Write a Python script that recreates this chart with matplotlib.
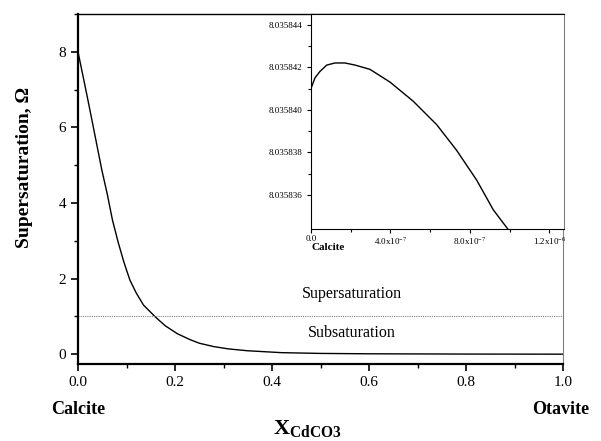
import numpy as np
import matplotlib.pyplot as plt
from matplotlib.ticker import MultipleLocator, FixedLocator

plt.rcParams['font.family'] = ['Liberation Serif', 'DejaVu Serif']
plt.rcParams['mathtext.fontset'] = 'custom'
plt.rcParams['mathtext.rm'] = 'Liberation Serif'
plt.rcParams['mathtext.bf'] = 'Liberation Serif:bold'

# main curve: supersaturation vs X_CdCO3
x_main = [0.0, 0.009, 0.018, 0.028, 0.0385, 0.049, 0.0604, 0.071, 0.083, 0.095,
          0.107, 0.12, 0.135, 0.159, 0.18, 0.205, 0.23, 0.25, 0.28, 0.31,
          0.35, 0.42, 0.5, 0.6, 0.8, 1.0]
omega_main = [8.0, 7.44, 6.88, 6.24, 5.56, 4.88, 4.23, 3.55, 2.95, 2.42,
              1.96, 1.62, 1.3, 0.99, 0.75, 0.54, 0.39, 0.29, 0.2, 0.14,
              0.09, 0.04, 0.02, 0.01, 0.003, 0.0]

# inset: zoom near calcite end
x_inset = [0.0, 0.2e-7, 0.45e-7, 0.79e-7, 1.21e-7, 1.71e-7, 2.22e-7, 2.97e-7,
           3.98e-7, 5.15e-7, 6.33e-7, 7.33e-7, 8.34e-7, 9.18e-7, 9.99e-7]
omega_inset = [8.0358410, 8.0358415, 8.0358418, 8.0358421, 8.0358422,
               8.0358422, 8.0358421, 8.0358419, 8.0358413, 8.0358404,
               8.0358393, 8.0358381, 8.0358367, 8.0358353, 8.0358343]

inset_yticks = [8.035836, 8.035838, 8.035840, 8.035842, 8.035844]
inset_ylabels = ['8.035836', '8.035838', '8.035840', '8.035842', '8.035844']
inset_xticks = [0.0, 4.0e-7, 8.0e-7, 1.2e-6]
inset_xlabels = ['0.0', r'4.0x10$^{-7}$', r'8.0x10$^{-7}$', r'1.2x10$^{-6}$']

fig = plt.figure(figsize=(6.01, 4.41), dpi=100)
ax = fig.add_axes([0.1298, 0.1746, 0.8072, 0.7934])

ax.plot(x_main, omega_main, color='black', lw=1.0)
ax.axhline(1.0, color='gray', lw=0.8, ls=(0, (1, 1)))
ax.set_xlim(0, 1.0)
ax.set_ylim(-0.26, 9.0)
ax.xaxis.set_major_locator(MultipleLocator(0.2))
ax.xaxis.set_minor_locator(MultipleLocator(0.1))
ax.yaxis.set_major_locator(MultipleLocator(2))
ax.yaxis.set_minor_locator(MultipleLocator(1))
ax.xaxis.set_major_formatter(plt.FuncFormatter(lambda v, p: f'{v:.1f}'))
ax.tick_params(which='both', direction='out', labelsize=11)
ax.tick_params(which='major', length=5, width=1.2)
ax.tick_params(which='minor', length=3, width=1.0)
for s in ['left', 'bottom']:
    ax.spines[s].set_linewidth(1.6)
ax.spines['top'].set_linewidth(1.0)
ax.spines['right'].set_color('gray')
ax.tick_params(top=False, right=False, which='both')

ax.text(0.565, 1.58, 'Supersaturation', ha='center', va='center', fontsize=11.5)
ax.text(0.565, 0.55, 'Subsaturation', ha='center', va='center', fontsize=11.5)

ax.set_ylabel('Supersaturation, Ω', fontsize=14, fontweight='bold')
ax.yaxis.set_label_coords(-0.093, 0.563)
fig.text(307 / 601, 1 - 434 / 441, r'$\mathbf{X}_{\mathbf{CdCO3}}$', ha='center',
         va='baseline', fontsize=16)
fig.text(78 / 601, 1 - 409 / 441, 'Calcite', ha='center', va='center',
         fontsize=13, fontweight='bold')
fig.text(561 / 601, 1 - 409 / 441, 'Otavite', ha='center', va='center',
         fontsize=13, fontweight='bold')

# inset
axi = fig.add_axes([311 / 601, 1 - 229 / 441, 253 / 601, 215 / 441])
axi.plot(x_inset, omega_inset, color='black', lw=1.0)
axi.set_xlim(0, 1.274e-6)
axi.set_ylim(8.0358344, 8.0358445)
axi.xaxis.set_major_locator(FixedLocator(inset_xticks))
axi.set_xticklabels(inset_xlabels)
axi.xaxis.set_minor_locator(FixedLocator([2e-7, 6e-7, 1e-6]))
axi.yaxis.set_major_locator(FixedLocator(inset_yticks))
axi.set_yticklabels(inset_ylabels)
axi.yaxis.set_minor_locator(FixedLocator([8.035837, 8.035839, 8.035841, 8.035843]))
axi.tick_params(which='both', direction='out', labelsize=6.5, top=False, right=False)
axi.tick_params(axis='x', pad=1.5)
axi.tick_params(which='major', length=3, width=0.8)
axi.tick_params(which='minor', length=2, width=0.8)
axi.spines['right'].set_color('gray')
axi.text(0.0, -0.085, 'Calcite', transform=axi.transAxes, ha='left', va='center',
         fontsize=8, fontweight='bold')

fig.savefig('out.png', dpi=100)
